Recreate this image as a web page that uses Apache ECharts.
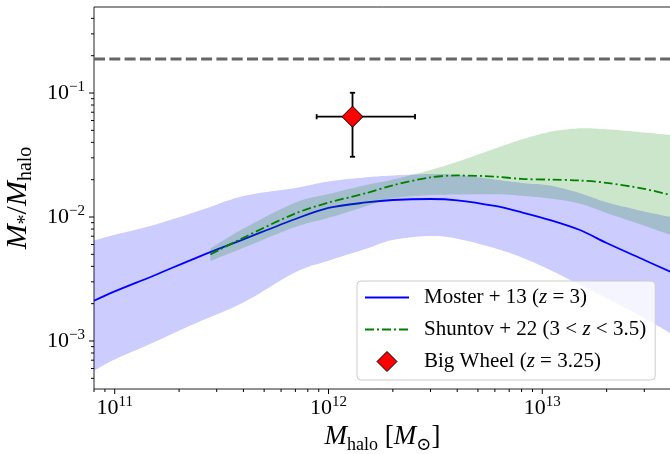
<!DOCTYPE html>
<html>
<head>
<meta charset="utf-8">
<script src="https://cdn.jsdelivr.net/npm/echarts@6/dist/echarts.min.js"></script>
<style>
html,body{margin:0;padding:0;background:#fff;}
#chart{width:670px;height:454px;}
</style>
</head>
<body>
<div id="chart"></div>
<script>
// ---------- data ----------
const mhalo = [8.0e10, 1e11, 1.5e11, 2.5e11, 4e11, 7e11, 1e12, 1.5e12, 2e12, 3e12, 4e12, 6e12, 8e12, 1.1e13, 1.5e13, 2e13, 3e13, 4e13];
const moster = [0.00211, 0.00251, 0.00333, 0.00482, 0.00661, 0.00964, 0.01183, 0.01310, 0.01371, 0.01397, 0.01364, 0.01227, 0.01091, 0.00940, 0.00785, 0.00617, 0.00450, 0.00360];
const mosterHi = [0.00648, 0.00718, 0.00855, 0.01128, 0.01476, 0.01714, 0.01936, 0.02089, 0.02162, 0.02223, 0.02188, 0.02006, 0.01883, 0.01785, 0.01556, 0.01315, 0.01107, 0.0100];
const mosterLo = [0.000575, 0.000710, 0.000964, 0.001439, 0.002043, 0.003589, 0.004436, 0.005545, 0.006530, 0.007031, 0.006683, 0.005598, 0.004723, 0.003704, 0.002833, 0.002213, 0.001528, 0.001148];

const shuntovMh = [2.8e11, 4e11, 7e11, 1e12, 1.5e12, 2e12, 3e12, 4e12, 6e12, 8e12, 1.1e13, 1.5e13, 2e13, 3e13, 4e13];
const shuntov = [0.00498, 0.00681, 0.01069, 0.01306, 0.01556, 0.01802, 0.02089, 0.02163, 0.02117, 0.02029, 0.02002, 0.01969, 0.01885, 0.01687, 0.01503];
const shuntovHi = [0.00557, 0.00806, 0.01309, 0.01531, 0.01811, 0.02003, 0.02393, 0.02788, 0.03562, 0.04217, 0.04883, 0.05188, 0.05096, 0.04809, 0.04581];
const shuntovLo = [0.00441, 0.00564, 0.00832, 0.00984, 0.01220, 0.01419, 0.01503, 0.01517, 0.01527, 0.01485, 0.01406, 0.01282, 0.01077, 0.00850, 0.00714];

// Big Wheel: [Mhalo, ratio, Mhalo low, Mhalo high, ratio low, ratio high]
const bigWheel = [1.295e12, 0.0644, 8.8e11, 2.54e12, 0.0306, 0.1005];

const baryonFraction = 0.188;

const xMin = 8.0e10, xMax = 4.0e13;
const yMin = 4.1e-4, yMax = 0.494;

const xMajorTicks = [1e11, 1e12, 1e13];
const xMinorTicks = [8e10, 9e10, 2e11, 3e11, 4e11, 5e11, 6e11, 7e11, 8e11, 9e11,
  2e12, 3e12, 4e12, 5e12, 6e12, 7e12, 8e12, 9e12, 2e13, 3e13];
const yMajorTicks = [1e-3, 1e-2, 1e-1];
const yMinorTicks = [5e-4, 6e-4, 7e-4, 8e-4, 9e-4, 2e-3, 3e-3, 4e-3, 5e-3, 6e-3, 7e-3, 8e-3, 9e-3,
  2e-2, 3e-2, 4e-2, 5e-2, 6e-2, 7e-2, 8e-2, 9e-2, 2e-1, 3e-1, 4e-1];

const legendLabels = {
  moster: '{r|Moster + 13 (}{i|z}{r| = 3)}',
  shuntov: '{r|Shuntov + 22 (3 < }{i|z}{r| < 3.5)}',
  bw: '{r|Big Wheel (}{i|z}{r| = 3.25)}'
};

// ---------- chart ----------
const FONT = "'Liberation Serif', 'DejaVu Serif', serif";
const chart = echarts.init(document.getElementById('chart'), null, {renderer: 'canvas'});

function powLabel(v) {
  const l = Math.log10(v);
  const e = Math.round(l);
  if (Math.abs(l - e) > 1e-6) return '';
  return '{b|10}{s|' + (e < 0 ? '\u2212' + (-e) : String(e)) + '}';
}
const tickRich = {
  b: {fontFamily: FONT, fontSize: 22, lineHeight: 26, color: '#000'},
  s: {fontFamily: FONT, fontSize: 15, lineHeight: 15, verticalAlign: 'top', color: '#000'}
};
function nameRich(size) {
  return {
    i: {fontFamily: FONT, fontSize: size, fontStyle: 'italic', lineHeight: size + 6, color: '#000'},
    r: {fontFamily: FONT, fontSize: size, lineHeight: size + 6, color: '#000'},
    sub: {fontFamily: FONT, fontSize: Math.round(size * 0.68), lineHeight: Math.round(size * 0.68), verticalAlign: 'bottom', color: '#000'}
  };
}

// smooth outline (drawing only): cubic Catmull-Rom through projected pixel points
function smoothOutline(pts, seg) {
  const out = [];
  const n = pts.length;
  for (let i = 0; i < n - 1; i++) {
    const p0 = pts[Math.max(i - 1, 0)], p1 = pts[i], p2 = pts[i + 1], p3 = pts[Math.min(i + 2, n - 1)];
    const c1 = [p1[0] + (p2[0] - p0[0]) / 6, p1[1] + (p2[1] - p0[1]) / 6];
    const c2 = [p2[0] - (p3[0] - p1[0]) / 6, p2[1] - (p3[1] - p1[1]) / 6];
    for (let k = 0; k < seg; k++) {
      const t = k / seg, u = 1 - t;
      out.push([
        u * u * u * p1[0] + 3 * u * u * t * c1[0] + 3 * u * t * t * c2[0] + t * t * t * p2[0],
        u * u * u * p1[1] + 3 * u * u * t * c1[1] + 3 * u * t * t * c2[1] + t * t * t * p2[1]
      ]);
    }
  }
  out.push(pts[n - 1]);
  return out;
}

function bandSeries(name, xs, lo, hi, color, z) {
  return {
    type: 'custom', name: name, silent: true, z: z,
    data: [[xs[0], lo[0]]],
    encode: {x: 0, y: 1},
    renderItem: function (params, api) {
      const up = xs.map((x, i) => api.coord([x, hi[i]]));
      const dn = xs.map((x, i) => api.coord([x, lo[i]]));
      const pts = smoothOutline(up, 10).concat(smoothOutline(dn, 10).reverse());
      return {type: 'polygon', shape: {points: pts}, style: {fill: color}};
    }
  };
}

function tickSeries(values, axis, len) {
  return {
    type: 'custom', silent: true, z: 10, clip: false,
    data: values.map(v => axis === 'x' ? [v, yMin] : [xMin, v]),
    encode: {x: 0, y: 1},
    renderItem: function (params, api) {
      const p = api.coord([api.value(0), api.value(1)]);
      const shape = axis === 'x'
        ? {x1: p[0], y1: p[1], x2: p[0], y2: p[1] + len}
        : {x1: p[0] - len, y1: p[1], x2: p[0], y2: p[1]};
      return {type: 'line', shape: shape, style: {stroke: '#000', lineWidth: 1}};
    }
  };
}

const option = {
  animation: false,
  backgroundColor: '#fff',
  grid: {left: 94, right: -1, top: 7, bottom: 65, show: true, borderColor: '#222', borderWidth: 1,
         backgroundColor: 'transparent', containLabel: false, outerBoundsMode: 'none'},
  xAxis: {
    type: 'log', logBase: 10, min: xMin, max: xMax,
    axisLine: {show: false},
    axisTick: {show: false},
    splitLine: {show: false},
    axisLabel: {formatter: powLabel, rich: tickRich, margin: 6, showMinLabel: false, showMaxLabel: false},
    name: '{i|M}{sub|halo}{r| [}{i|M}{sub|\u2299}{r|]}',
    nameLocation: 'middle', nameGap: 30,
    nameTextStyle: {rich: nameRich(27)}
  },
  yAxis: {
    type: 'log', logBase: 10, min: yMin, max: yMax,
    axisLine: {show: false},
    axisTick: {show: false},
    splitLine: {show: false},
    axisLabel: {formatter: powLabel, rich: tickRich, margin: 9, showMinLabel: false, showMaxLabel: false},
    name: '{i|M}{sub|*}{r|/}{i|M}{sub|halo}',
    nameLocation: 'middle', nameGap: 52, nameRotate: 90,
    nameTextStyle: {rich: nameRich(30)}
  },
  legend: {
    left: 357, top: 281,
    orient: 'vertical',
    data: [
      {name: 'moster', itemStyle: {opacity: 0}},
      {name: 'shuntov', itemStyle: {opacity: 0}},
      {name: 'bw', icon: 'path://M0,-1L1,0L0,1L-1,0Z', itemStyle: {color: '#ff0000', borderColor: '#000', borderWidth: 1}}
    ],
    formatter: function (n) { return legendLabels[n]; },
    itemWidth: 44, itemHeight: 20, itemGap: 11,
    symbolKeepAspect: true,
    padding: [6, 9, 8, 7],
    backgroundColor: 'rgba(255,255,255,0.8)',
    borderColor: '#cccccc', borderWidth: 1, borderRadius: 4,
    selectedMode: false,
    textStyle: {
      padding: [0, 0, 0, 10],
      rich: {
        r: {fontFamily: FONT, fontSize: 21, lineHeight: 22, color: '#000'},
        i: {fontFamily: FONT, fontSize: 21, lineHeight: 22, fontStyle: 'italic', color: '#000'}
      }
    }
  },
  series: [
    bandSeries('mosterBand', mhalo, mosterLo, mosterHi, 'rgba(0,0,255,0.2)', 1),
    {
      type: 'line', name: 'moster', z: 2,
      data: mhalo.map((x, i) => [x, moster[i]]),
      showSymbol: false, symbol: 'none', silent: true, smooth: 0.3,
      lineStyle: {color: '#0000ff', width: 1.8}, itemStyle: {color: '#0000ff'}
    },
    bandSeries('shuntovBand', shuntovMh, shuntovLo, shuntovHi, 'rgba(0,128,0,0.2)', 3),
    {
      type: 'line', name: 'shuntov', z: 4,
      data: shuntovMh.map((x, i) => [x, shuntov[i]]),
      showSymbol: false, symbol: 'none', silent: true, smooth: 0.3,
      lineStyle: {color: '#008000', width: 1.8, type: [9, 3, 2, 3]}, itemStyle: {color: '#008000'}
    },
    {
      type: 'line', name: 'fb', z: 4,
      data: [[xMin, baryonFraction], [xMax, baryonFraction]],
      showSymbol: false, symbol: 'none', silent: true,
      lineStyle: {color: '#666666', width: 2.8, type: [11, 4.3]}
    },
    {
      type: 'custom', name: 'bwErr', z: 5, silent: true,
      data: [bigWheel],
      encode: {x: 0, y: 1},
      renderItem: function (params, api) {
        const x = api.value(0), y = api.value(1);
        const l = api.coord([api.value(2), y]), r = api.coord([api.value(3), y]);
        const b = api.coord([x, api.value(4)]), t = api.coord([x, api.value(5)]);
        const st = {stroke: '#000', lineWidth: 1.8};
        const c = 2.6;
        return {type: 'group', children: [
          {type: 'line', shape: {x1: l[0], y1: l[1], x2: r[0], y2: r[1]}, style: st},
          {type: 'line', shape: {x1: b[0], y1: b[1], x2: t[0], y2: t[1]}, style: st},
          {type: 'line', shape: {x1: l[0], y1: l[1] - c, x2: l[0], y2: l[1] + c}, style: st},
          {type: 'line', shape: {x1: r[0], y1: r[1] - c, x2: r[0], y2: r[1] + c}, style: st},
          {type: 'line', shape: {x1: b[0] - c, y1: b[1], x2: b[0] + c, y2: b[1]}, style: st},
          {type: 'line', shape: {x1: t[0] - c, y1: t[1], x2: t[0] + c, y2: t[1]}, style: st}
        ]};
      }
    },
    {
      type: 'scatter', name: 'bw', z: 6, silent: true,
      data: [[bigWheel[0], bigWheel[1]]],
      symbol: 'diamond', symbolSize: 21,
      itemStyle: {color: '#ff0000', borderColor: '#000', borderWidth: 1, opacity: 1}
    },
    tickSeries(xMajorTicks, 'x', 5),
    tickSeries(xMinorTicks, 'x', 3),
    tickSeries(yMajorTicks, 'y', 5),
    tickSeries(yMinorTicks, 'y', 3)
  ]
};
chart.setOption(option);
</script>
</body>
</html>
